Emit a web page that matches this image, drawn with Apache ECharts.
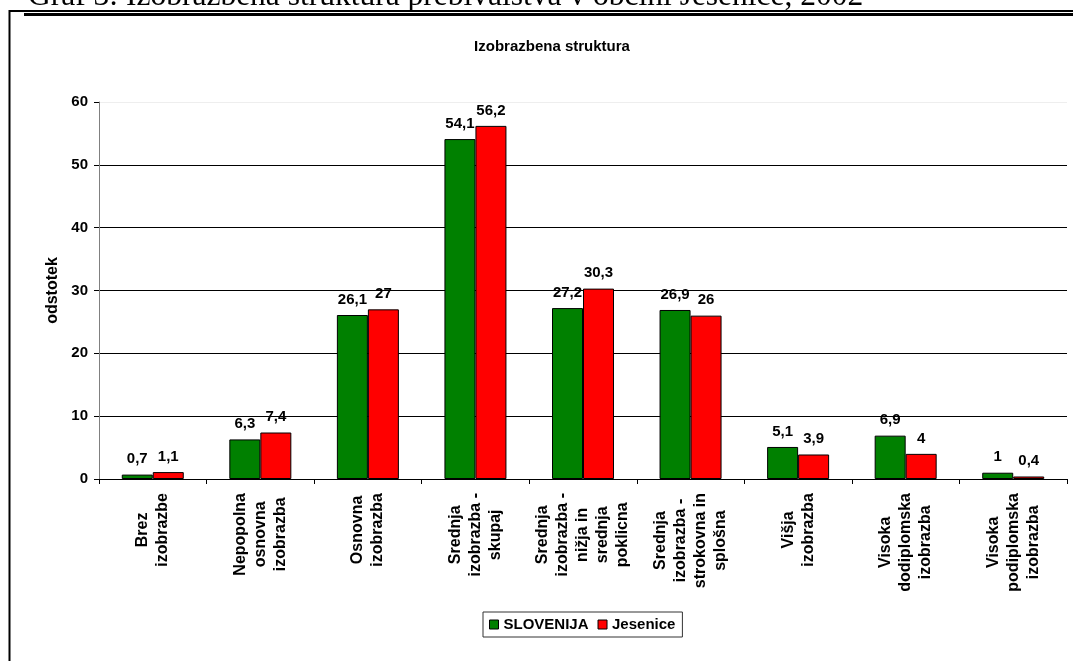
<!DOCTYPE html>
<html>
<head>
<meta charset="utf-8">
<script src="https://cdn.jsdelivr.net/npm/echarts@6/dist/echarts.min.js"></script>
<style>
html,body{margin:0;padding:0;background:#fff;}
#c{width:1073px;height:661px;}
</style>
</head>
<body>
<div id="c"></div>
<script>
const categories = [
  'Brez\nizobrazbe',
  'Nepopolna\nosnovna\nizobrazba',
  'Osnovna\nizobrazba',
  'Srednja\nizobrazba -\nskupaj',
  'Srednja\nizobrazba -\nnižja in\nsrednja\npoklicna',
  'Srednja\nizobrazba -\nstrokovna in\nsplošna',
  'Višja\nizobrazba',
  'Visoka\ndodiplomska\nizobrazba',
  'Visoka\npodiplomska\nizobrazba'
];
const seriesNames = ['SLOVENIJA', 'Jesenice'];
const slovenija = [0.7, 6.3, 26.1, 54.1, 27.2, 26.9, 5.1, 6.9, 1];
const jesenice = [1.1, 7.4, 27, 56.2, 30.3, 26, 3.9, 4, 0.4];
const chartTitle = 'Izobrazbena struktura';
const yAxisName = 'odstotek';
const docCaption = 'Graf 3: Izobrazbena struktura prebivalstva v občini Jesenice, 2002';

const FONT = '"Liberation Sans", Arial, sans-serif';
const chart = echarts.init(document.getElementById('c'), null, {renderer: 'canvas'});

const labelFmt = v => String(v).replace('.', ',');

function barSeries(name, data, color) {
  return {
    name: name,
    type: 'bar',
    data: data,
    barWidth: 31,
    barGap: '0%',
    itemStyle: {color: color, borderColor: '#000', borderWidth: 1},
    label: {
      show: true, position: 'top', distance: 8,
      fontFamily: FONT, fontWeight: 'bold', fontSize: 15, color: '#000',
      formatter: p => labelFmt(p.value)
    }
  };
}

chart.setOption({
  backgroundColor: '#fff',
  animation: false,
  textStyle: {fontFamily: FONT},
  title: {
    text: chartTitle,
    left: 552, top: 39, textAlign: 'center', padding: 0,
    textStyle: {fontFamily: FONT, fontWeight: 'bold', fontSize: 15, color: '#000'}
  },
  grid: {left: 99, right: 6, top: 102, bottom: 182, containLabel: false},
  legend: {
    left: 483, top: 612,
    orient: 'horizontal',
    itemWidth: 9, itemHeight: 9, itemGap: 9,
    icon: 'rect',
    padding: [5, 7, 5, 6],
    borderColor: '#333', borderWidth: 1,
    textStyle: {fontFamily: FONT, fontWeight: 'bold', fontSize: 15, color: '#000'},
    itemStyle: {borderColor: '#000', borderWidth: 1},
    data: seriesNames
  },
  xAxis: {
    type: 'category',
    data: categories,
    axisLine: {lineStyle: {color: '#000', width: 1}},
    axisTick: {show: true, length: 5, lineStyle: {color: '#000'}},
    axisLabel: {
      interval: 0, rotate: 90, margin: 14,
      formatter: v => v.split('\n').map(l => '{c|' + l + '}').join('\n'),
      rich: {
        c: {align: 'center', fontFamily: FONT, fontWeight: 'bold', fontSize: 16, lineHeight: 20, color: '#000'}
      }
    }
  },
  yAxis: {
    type: 'value',
    min: 0, max: 60, interval: 10,
    name: yAxisName,
    nameLocation: 'middle',
    nameGap: 37,
    nameTextStyle: {fontFamily: FONT, fontWeight: 'bold', fontSize: 16, color: '#000'},
    axisLine: {show: true, lineStyle: {color: '#808080', width: 1}},
    axisTick: {show: true, length: 5, lineStyle: {color: '#000'}},
    axisLabel: {margin: 11, fontFamily: FONT, fontWeight: 'bold', fontSize: 15, color: '#000'},
    splitLine: {show: true, lineStyle: {color: ['#000', '#000', '#000', '#000', '#000', '#000', '#eeeeee'], width: 1}}
  },
  series: [
    barSeries(seriesNames[0], slovenija, '#008000'),
    barSeries(seriesNames[1], jesenice, '#FF0000')
  ],
  graphic: [
    {type: 'text', left: 28, top: -19, silent: true,
     style: {text: docCaption, font: '31.5px "Liberation Serif", "Times New Roman", serif', fill: '#000'}},
    {type: 'polyline', silent: true,
     shape: {points: [[9.5, 700], [9.5, 11], [1080, 11]]},
     style: {stroke: '#000', lineWidth: 2, fill: null}},
    {type: 'line', silent: true,
     shape: {x1: 24, y1: 14.5, x2: 1080, y2: 14.5},
     style: {stroke: '#000', lineWidth: 3}}
  ]
});
</script>
</body>
</html>
